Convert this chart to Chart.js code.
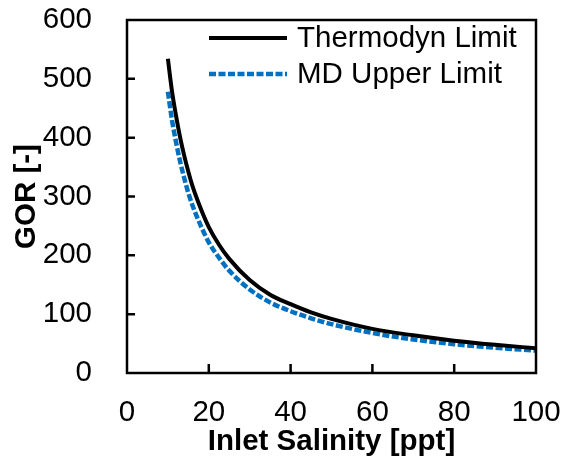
<!DOCTYPE html>
<html>
<head>
<meta charset="utf-8">
<script src="https://cdn.jsdelivr.net/npm/chart.js@4/dist/chart.umd.min.js"></script>
<style>
  html, body { margin: 0; padding: 0; background: #fff; }
  #wrap { width: 562px; height: 457px; }
</style>
</head>
<body>
<div id="wrap"><canvas id="chart"></canvas></div>
<script>
// values
const salinity = [10, 11, 12, 13, 14, 15, 16, 18, 20, 22.5, 25, 30, 35, 40, 45, 50, 60, 70, 80, 90, 100];
const thermoLimit = [534, 479, 437, 400, 369, 342, 318, 280, 248, 218, 194, 158, 133, 117, 103, 92, 75, 64, 55, 48, 42];
const mdUpperLimit = [478, 430, 392, 359, 331, 306, 285, 251, 222, 196, 174, 142, 120, 105, 93, 83, 68, 57, 49, 43, 38];
const seriesNames = ["Thermodyn Limit", "MD Upper Limit"];
const xTicks = [0, 20, 40, 60, 80, 100];
const yTicks = [0, 100, 200, 300, 400, 500, 600];

const fontFamily = 'Arial, "Liberation Sans", sans-serif';
const fontSize = 29.5;
Chart.defaults.font.family = fontFamily;
Chart.defaults.color = "#000";

// frame + inward tick marks
const framePlugin = {
  id: "frame",
  afterDatasetsDraw(chart) {
    const { ctx, chartArea: a, scales } = chart;
    ctx.save();
    ctx.strokeStyle = "#000";
    ctx.lineWidth = 2.5;
    ctx.strokeRect(a.left, a.top, a.right - a.left, a.bottom - a.top);
    ctx.beginPath();
    yTicks.slice(1, -1).forEach((v) => {
      const y = scales.y.getPixelForValue(v);
      ctx.moveTo(a.left, y);
      ctx.lineTo(a.left + 8, y);
    });
    xTicks.slice(1, -1).forEach((v) => {
      const x = scales.x.getPixelForValue(v);
      ctx.moveTo(x, a.bottom);
      ctx.lineTo(x, a.bottom - 9);
    });
    ctx.stroke();
    ctx.restore();
  },
};

// legend inside the plot, top right
const legendPlugin = {
  id: "insideLegend",
  afterDraw(chart) {
    const { ctx } = chart;
    ctx.save();
    ctx.font = fontSize + "px " + fontFamily;
    ctx.textBaseline = "middle";
    ctx.fillStyle = "#000";
    chart.data.datasets.forEach((ds, i) => {
      const y = 38 + i * 36;
      ctx.beginPath();
      ctx.strokeStyle = ds.borderColor;
      ctx.lineWidth = ds.borderWidth;
      ctx.setLineDash(ds.borderDash || []);
      ctx.moveTo(209, y);
      ctx.lineTo(287, y);
      ctx.stroke();
      ctx.setLineDash([]);
      ctx.fillText(ds.label, 297, y + 1);
    });
    ctx.restore();
  },
};

function noPad(scale) {
  scale.paddingTop = 0;
  scale.paddingBottom = 0;
  scale.paddingLeft = 0;
  scale.paddingRight = 0;
}

new Chart(document.getElementById("chart"), {
  type: "line",
  data: {
    datasets: [
      {
        label: seriesNames[0],
        data: salinity.map((s, i) => ({ x: s, y: thermoLimit[i] })),
        borderColor: "#000000",
        borderWidth: 4,
        pointRadius: 0,
        cubicInterpolationMode: "monotone",
      },
      {
        label: seriesNames[1],
        data: salinity.map((s, i) => ({ x: s, y: mdUpperLimit[i] })),
        borderColor: "#0070C0",
        borderWidth: 4.5,
        borderDash: [7, 2.5],
        pointRadius: 0,
        cubicInterpolationMode: "monotone",
      },
    ],
  },
  options: {
    responsive: true,
    maintainAspectRatio: false,
    animation: false,
    layout: { padding: { top: 20, right: 26, left: 0, bottom: 0 } },
    plugins: { legend: { display: false }, tooltip: { enabled: false } },
    scales: {
      x: {
        type: "linear",
        min: 0,
        max: 100,
        grid: { display: false },
        border: { display: false },
        afterFit: (scale) => { scale.height = 84; noPad(scale); },
        afterBuildTicks: (scale) => { scale.ticks = xTicks.map((v) => ({ value: v })); },
        ticks: { font: { size: fontSize }, padding: 14, maxRotation: 0 },
        title: {
          display: true,
          text: "Inlet Salinity [ppt]",
          font: { size: fontSize, weight: "bold" },
          padding: { top: 0, bottom: -3 },
        },
      },
      y: {
        min: 0,
        max: 600,
        grid: { display: false },
        border: { display: false },
        afterFit: (scale) => { scale.width = 127; noPad(scale); },
        afterBuildTicks: (scale) => { scale.ticks = yTicks.map((v) => ({ value: v })); },
        ticks: { font: { size: fontSize }, padding: 27 },
        title: {
          display: true,
          text: "GOR [-]",
          font: { size: fontSize, weight: "bold" },
          padding: { top: 9, bottom: 0 },
        },
      },
    },
  },
  plugins: [framePlugin, legendPlugin],
});
</script>
</body>
</html>
